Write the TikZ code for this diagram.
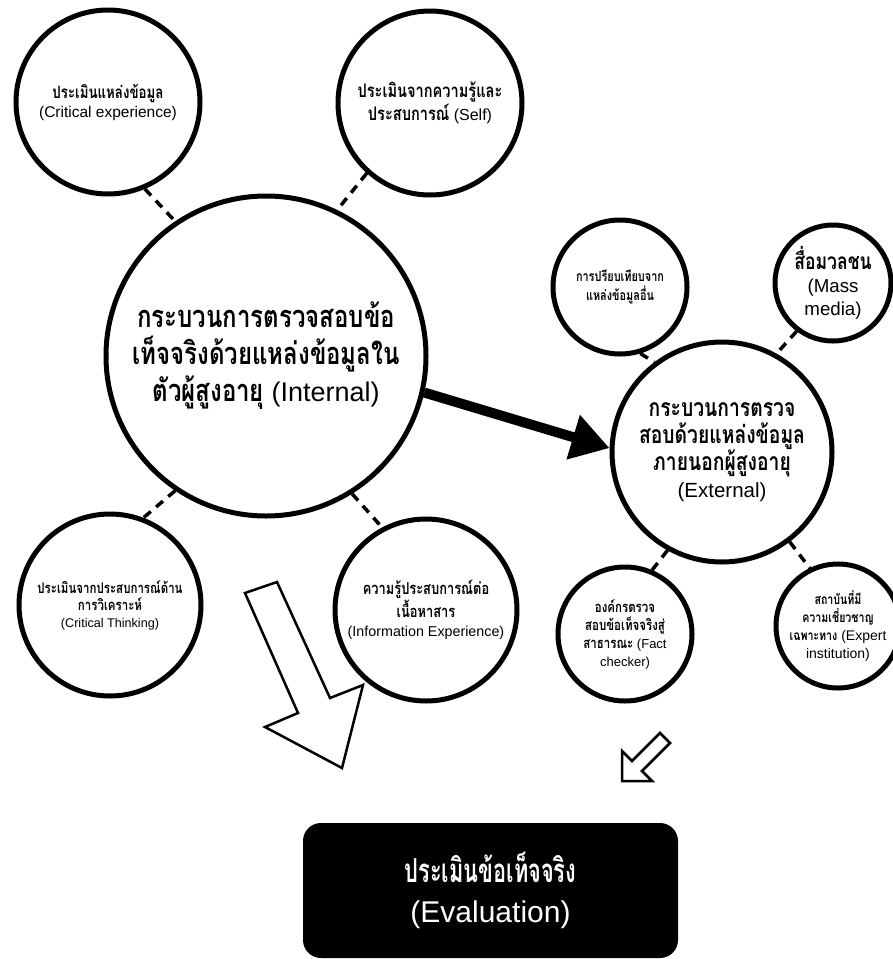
\documentclass[tikz,border=0pt]{standalone}
\usepackage{fontspec}
\setmainfont{Liberation Sans}
\newfontfamily\thai[Script=Thai,Scale=1.1,FakeStretch=0.78]{Loma}
\newfontfamily\thaibox[Script=Thai,Scale=1.1,FakeStretch=0.66]{Loma}
\usetikzlibrary{arrows.meta}
\newcommand{\fs}[2]{\fontsize{#1}{#2}\selectfont}
\newcommand{\tf}[2][]{{#1\thai\bfseries #2}}
\tikzset{
  bub/.style={circle, draw=black, line width=5pt, fill=white, inner sep=0pt, align=center},
  link/.style={line width=3.5pt, dash pattern=on 9pt off 7pt},
  hollow/.style={draw=black, line width=2.5pt, fill=white, line join=miter},
  flow/.style={line width=10pt, -{Triangle[length=38pt,width=44pt]}},
  result/.style={rounded corners=18pt, fill=black, text=white, align=center,
    minimum width=375pt, minimum height=135pt, inner sep=0pt}
}
\begin{document}
\begin{tikzpicture}[x=1pt,y=-1pt]
\useasboundingbox (0,0) rectangle (893,959);
% circles
\node[bub, minimum size=184pt, font=\fs{15.5}{19}] (tl) at (108,102)
  {\tf[\fs{15.5}{19}]{ประเมินแหล่งข้อมูล}\\(Critical experience)};
\node[bub, minimum size=184pt, font=\fs{16}{23}] (self) at (430,103)
  {\tf[\fs{17}{23}]{ประเมินจากความรู้และ}\\\tf[\fs{17}{23}]{ประสบการณ์} (Self)};
\node[bub, minimum size=320pt, font=\fs{27}{37}] (int) at (266,356)
  {\tf[\fs{28}{37}]{กระบวนการตรวจสอบข้อ}\\\tf[\fs{28}{37}]{เท็จจริงด้วยแหล่งข้อมูลใน}\\\tf[\fs{28}{37}]{ตัวผู้สูงอายุ} (Internal)};
\node[bub, minimum size=182pt, font=\fs{12.6}{17}] (ct) at (110,605)
  {\tf[\fs{13.4}{17}]{ประเมินจากประสบการณ์ด้าน}\\\tf[\fs{13.4}{17}]{การวิเคราะห์}\\(Critical Thinking)};
\node[bub, minimum size=182pt, font=\fs{14.3}{19.5}] (ie) at (426,610)
  {\tf[\fs{15}{19.5}]{ความรู้ประสบการณ์ต่อ}\\\tf[\fs{15}{19.5}]{เนื้อหาสาร}\\(Information Experience)};
\node[bub, minimum size=134pt, font=\fs{12.7}{19}] (cmp) at (620,287)
  {\tf{การปรียบเทียบจาก}\\\tf{แหล่งข้อมูลอื่น}};
\node[bub, minimum size=116pt, font=\fs{18.7}{23}] (mass) at (833,283)
  {\tf[\fs{20.5}{23}]{สื่อมวลชน}\\(Mass\\media)};
\node[bub, minimum size=220pt, font=\fs{20.5}{27}] (ext) at (722,452)
  {\tf[\fs{22.5}{27}]{กระบวนการตรวจ}\\\tf[\fs{22.5}{27}]{สอบด้วยแหล่งข้อมูล}\\\tf[\fs{22.5}{27}]{ภายนอกผู้สูงอายุ}\\(External)};
\node[bub, minimum size=134pt, font=\fs{13}{18}] (fc) at (625,634)
  {\tf[\fs{13.4}{18}]{องค์กรตรวจ}\\\tf[\fs{13.4}{18}]{สอบข้อเท็จจริงสู่}\\\tf[\fs{13.4}{18}]{สาธารณะ} (Fact\\checker)};
\node[bub, minimum size=124pt, font=\fs{14}{18}] (exp) at (838,626)
  {\tf[\fs{12.4}{18}]{สถาบันที่มี}\\\tf[\fs{12.4}{18}]{ความเชี่ยวชาญ}\\\tf[\fs{12.4}{18}]{เฉพาะทาง} (Expert\\institution)};
% dashed links
\draw[link] (tl.-67) -- (int.124);
\draw[link] (self.-132) -- (int.64.5);
\draw[link] (int.-124.7) -- (ct.69.4);
\draw[link] (int.-58.6) -- (ie.118.4);
\draw[link] (cmp.-73.6) -- (ext.127.8);
\draw[link] (mass.-127) -- (ext.61);
\draw[link] (ext.-119) -- (fc.67.7);
\draw[link] (ext.-53.9) -- (exp.116);
% main flow arrow
\draw[flow] (int.-13.3) -- (ext.178);
% hollow arrows
\draw[hollow] (245,593) -- (277,582) -- (330,698) -- (363,685) -- (342,768) -- (265,727) -- (298,713) -- cycle;
\draw[hollow] (622,781) -- (622,751) -- (632,761) -- (660,733) -- (670,743) -- (642,771) -- (652,781) -- cycle;
% result box
\node[result, font=\fs{30}{40}] (eval) at (490.5,890.5)
  {{\fs{30}{40}\thaibox\bfseries ประเมินข้อเท็จจริง}\\(Evaluation)};
\end{tikzpicture}
\end{document}
